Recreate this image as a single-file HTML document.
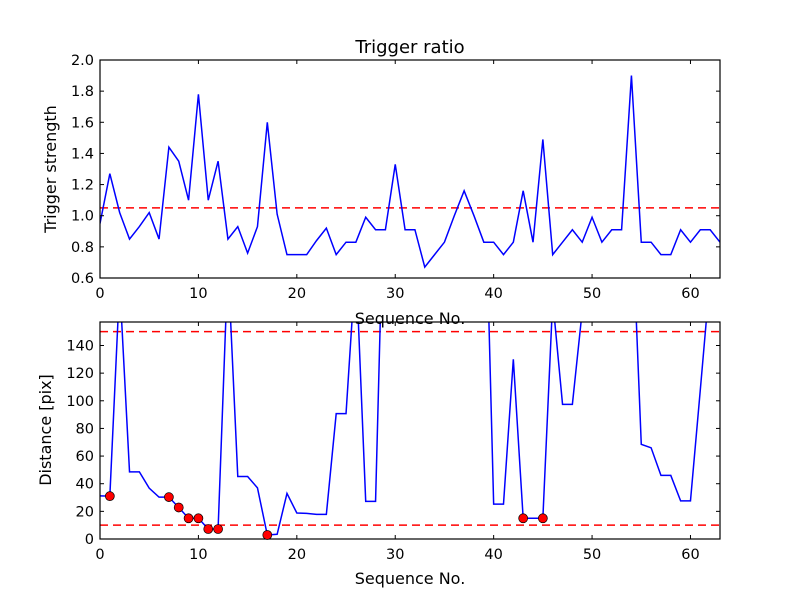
<!DOCTYPE html>
<html><head><meta charset="utf-8"><style>
body{margin:0;background:#fff;}
svg{display:block;font-family:"DejaVu Sans","Liberation Sans",sans-serif;}
</style></head><body>
<svg id="chart" width="800" height="600" viewBox="0 0 800 600" xmlns="http://www.w3.org/2000/svg">
<rect width="800" height="600" fill="#fff"/>
<defs>
<clipPath id="c1"><rect x="100" y="60" width="620" height="218"/></clipPath>
<clipPath id="c2"><rect x="100" y="322" width="620" height="217"/></clipPath>
</defs>
<g id="g"></g>
</svg>
<script>
const strength = [0.95,1.27,1.02,0.85,0.93,1.02,0.85,1.44,1.35,1.10,1.78,1.10,1.35,0.85,0.93,0.76,0.93,1.60,1.01,0.75,0.75,0.75,0.84,0.92,0.75,0.83,0.83,0.99,0.91,0.91,1.33,0.91,0.91,0.67,0.75,0.83,1.00,1.16,1.00,0.83,0.83,0.75,0.83,1.16,0.83,1.49,0.75,0.83,0.91,0.83,0.99,0.83,0.91,0.91,1.90,0.83,0.83,0.75,0.75,0.91,0.83,0.91,0.91,0.83];
const distance = [31.2,31,185,48.6,48.6,36.8,30.3,30.3,22.8,15,15,7.2,7.2,200,45.2,45.2,37,2.9,3.4,33,18.8,18.5,17.8,17.8,90.7,90.7,201,27.2,27.2,300,300,300,300,300,300,300,300,300,300,300,25.2,25.2,130,15,15,15,173,97.4,97.4,165,300,300,300,300,246,68.5,66,46,46,27.6,27.6,108,190,250];
const markerIdx = [1,7,8,9,10,11,12,17,43,45];
const strengthThreshold = 1.05;
const distThresholds = [10,150];
const xTicks = [0,10,20,30,40,50,60];
const yTicksTop = [0.6,0.8,1.0,1.2,1.4,1.6,1.8,2.0];
const yTicksBot = [0,20,40,60,80,100,120,140];

const NS="http://www.w3.org/2000/svg";
const g=document.getElementById('g');
function mk(tag,attrs,parent){const e=document.createElementNS(NS,tag);for(const k in attrs)e.setAttribute(k,attrs[k]);(parent||g).appendChild(e);return e;}
const L=100,R=720;
const xs=v=>L+(v-0)/(63-0)*(R-L);
function panel(top,bot,ymin,ymax,series,yTicks,fmt,clip,hl,pname){
  const ys=v=>bot-(v-ymin)/(ymax-ymin)*(bot-top);
  const grp=mk('g',{});
  
  
  const hg=mk('g',{'clip-path':'url(#'+clip+')'},grp);
  hl.forEach(h=>{const l=mk('line',{x1:L,x2:R,y1:ys(h),y2:ys(h),stroke:'#ff0000','stroke-width':1.5,'stroke-dasharray':'8,5'},hg);
    
    });
  const d=series.map((v,i)=>(i?'L':'M')+xs(i).toFixed(2)+','+ys(v).toFixed(2)).join('');
  const p=mk('path',{d:d,fill:'none',stroke:'#0000ff','stroke-width':1.5},hg);
  
  
  const fr=mk('rect',{x:L,y:top,width:R-L,height:bot-top,fill:'none',stroke:'#000','stroke-width':1.2},grp);
  
  
  xTicks.forEach(t=>{const x=xs(t);
    mk('line',{x1:x,x2:x,y1:bot,y2:bot-4,stroke:'#000'},grp);
    mk('line',{x1:x,x2:x,y1:top,y2:top+4,stroke:'#000'},grp);
    const tx=mk('text',{x:x,y:bot+20,'text-anchor':'middle','font-size':14.5},grp);tx.textContent=t;
    
    });
  yTicks.forEach(t=>{const y=ys(t);
    mk('line',{x1:L,x2:L+4,y1:y,y2:y,stroke:'#000'},grp);
    mk('line',{x1:R,x2:R-4,y1:y,y2:y,stroke:'#000'},grp);
    const ty=mk('text',{x:L-6,y:y+5,'text-anchor':'end','font-size':14.5},grp);ty.textContent=fmt(t);
    
    });
  return ys;
}
panel(60,278,0.6,2.0,strength,yTicksTop,t=>t.toFixed(1),'c1',[strengthThreshold],'trigger-strength-panel');
const ys2=panel(322,539,0,157,distance,yTicksBot,t=>String(t),'c2',distThresholds,'distance-panel');
markerIdx.forEach(i=>{const c=mk('circle',{cx:xs(i),cy:ys2(distance[i]),r:4.5,fill:'#ff0000',stroke:'#000','stroke-width':0.7});
  
  });
function txt(s,attrs,name){const t=mk('text',attrs);t.textContent=s;
  
  return t;}
txt('Trigger ratio',{x:410,y:53,'text-anchor':'middle','font-size':18},'chart-title');
txt('Sequence No.',{x:410,y:324,'text-anchor':'middle','font-size':16},'top-x-axis-title');
txt('Sequence No.',{x:410,y:584,'text-anchor':'middle','font-size':16},'bottom-x-axis-title');
txt('Trigger strength',{x:56,y:169,'text-anchor':'middle','font-size':16,transform:'rotate(-90 56 169)'},'top-y-axis-title');
txt('Distance [pix]',{x:51,y:430,'text-anchor':'middle','font-size':16,transform:'rotate(-90 51 430)'},'bottom-y-axis-title');
</script>
</body></html>
